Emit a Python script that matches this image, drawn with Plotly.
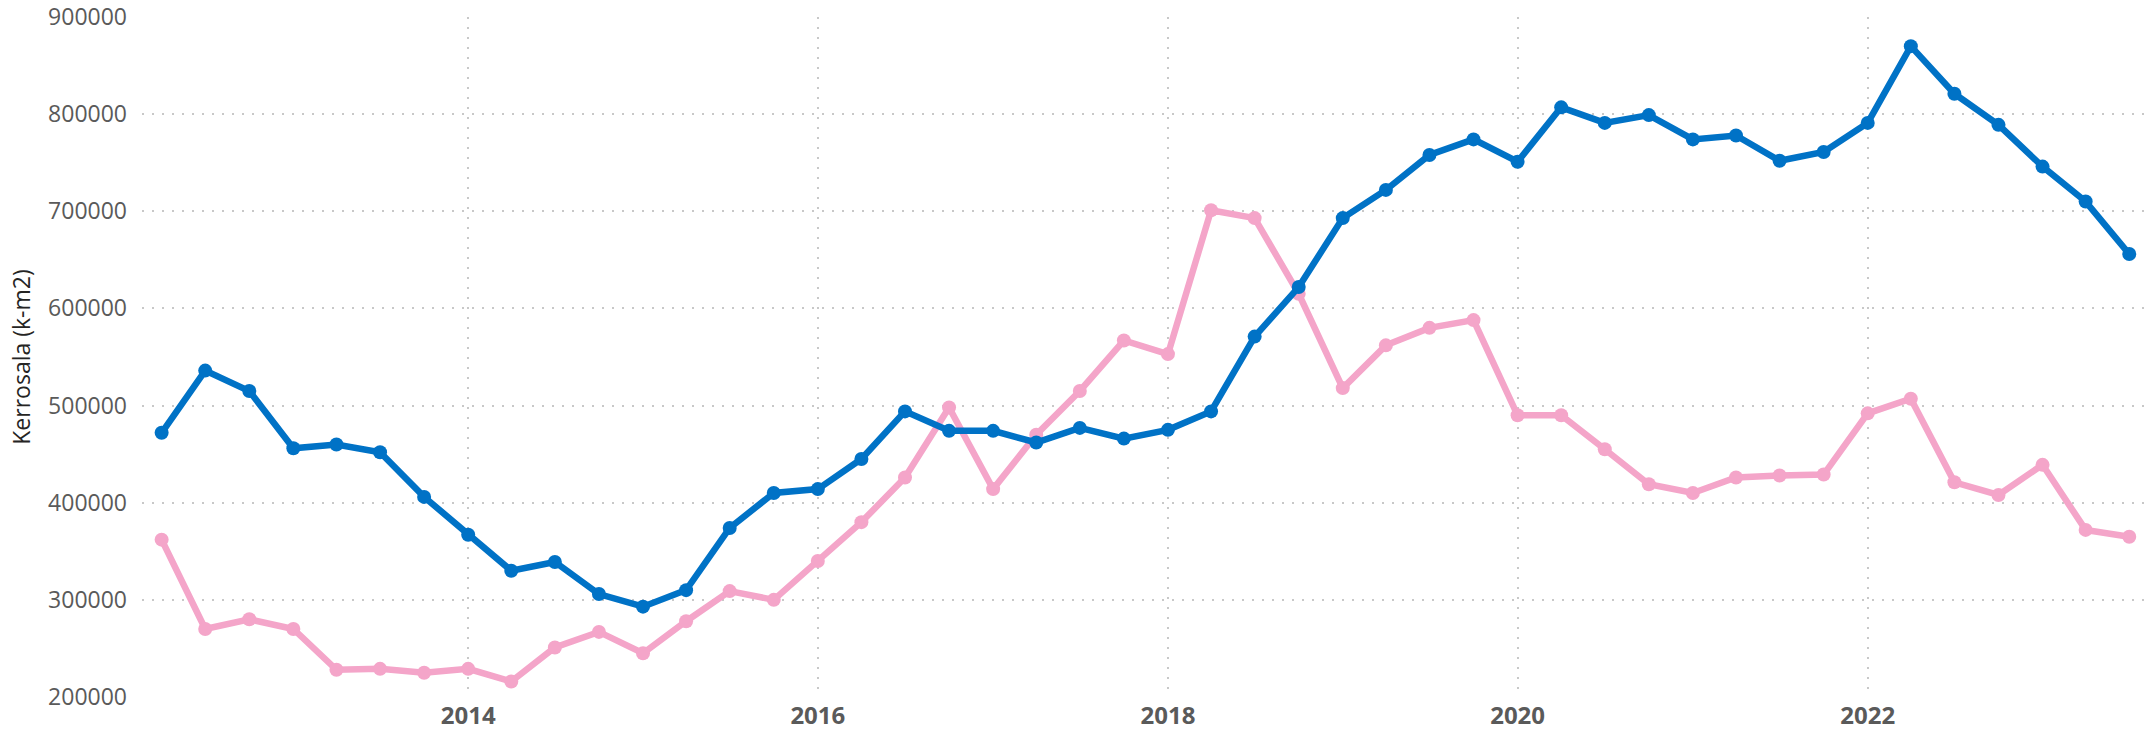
import plotly.graph_objects as go
import pandas as pd

dates = pd.date_range("2012-04-01", "2023-07-01", freq="QS").strftime("%Y-%m-%d").tolist()

series_blue = [472, 536, 515, 456, 460, 452, 406, 367, 330, 339, 306, 293, 310, 374, 410, 414,
               445, 494, 474, 474, 462, 477, 466, 475, 494, 571, 622, 693, 722, 758, 774, 751,
               807, 791, 799, 774, 778, 752, 761, 791, 870, 821, 789, 746, 710, 656]
series_pink = [362, 270, 280, 270, 228, 229, 225, 229, 216, 251, 267, 245, 278, 309, 300, 340,
               380, 426, 498, 414, 470, 515, 567, 553, 701, 693, 615, 518, 562, 580, 588, 490,
               490, 455, 419, 410, 426, 428, 429, 492, 507, 421, 408, 439, 372, 365]

blue_vals = [v * 1000 for v in series_blue]
pink_vals = [v * 1000 for v in series_pink]

y_title = "Kerrosala (k-m2)"
y_ticks = [200000, 300000, 400000, 500000, 600000, 700000, 800000, 900000]

fig = go.Figure()
fig.add_trace(go.Scatter(x=dates, y=pink_vals, mode="lines+markers",
                         line=dict(color="#F4A5C9", width=6.5),
                         marker=dict(size=14, color="#F4A5C9"), showlegend=False))
fig.add_trace(go.Scatter(x=dates, y=blue_vals, mode="lines+markers",
                         line=dict(color="#0072C6", width=6.5),
                         marker=dict(size=14, color="#0072C6"), showlegend=False))

fig.update_layout(
    width=2156, height=734,
    margin=dict(l=142, r=10, t=17, b=37),
    plot_bgcolor="white", paper_bgcolor="white",
    font=dict(family="Open Sans", color="#5A5A5A"),
)
fig.update_xaxes(
    type="date", range=["2012-02-20", "2023-08-05"],
    dtick="M24", tick0="2014-01-01", tickformat="%Y",
    showgrid=True, gridcolor="#C8C8C8", griddash="2px,8px", gridwidth=1.5,
    zeroline=False, showline=False, automargin=False,
    tickfont=dict(family="Open Sans", size=24, color="#5A5A5A", weight="bold"),
    ticklabelstandoff=2,
)
fig.update_yaxes(
    range=[200000, 900000], tickvals=y_ticks, tickformat="d",
    showgrid=True, gridcolor="#C8C8C8", griddash="2px,8px", gridwidth=1.5,
    zeroline=False, showline=False, automargin=False,
    tickfont=dict(family="Open Sans", size=23, color="#5A5A5A"),
    ticklabelstandoff=14,
    title=dict(text=y_title, font=dict(family="Open Sans", size=23, color="#252423"), standoff=11),
)

fig.write_html("out.html", config={"displayModeBar": False},
               post_script="document.body.style.margin='0';")
